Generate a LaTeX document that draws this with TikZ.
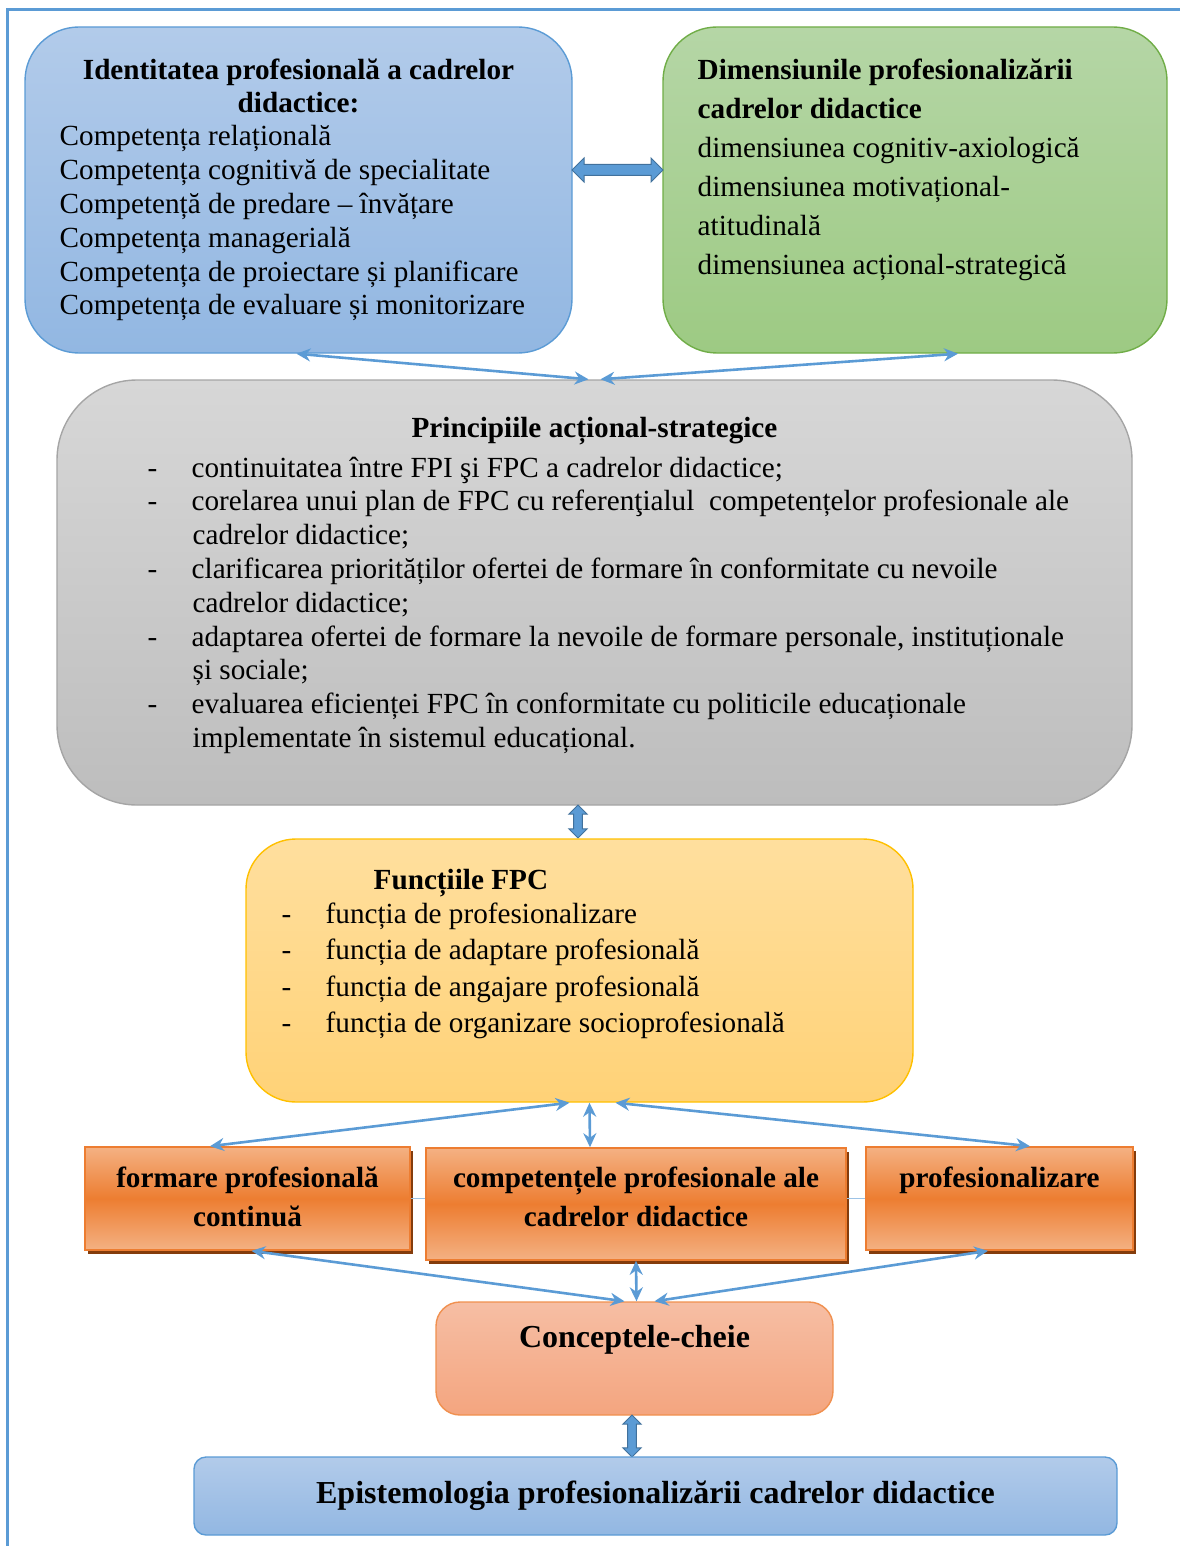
\documentclass[tikz,border=0pt]{standalone}
\usepackage{fontspec}
\setmainfont{Liberation Serif}
\usetikzlibrary{arrows.meta,shapes.arrows,shadows}
\definecolor{frameBlue}{HTML}{5B9BD5}
\definecolor{arrowDark}{HTML}{41719C}
\definecolor{blueTop}{HTML}{B2CBEA}
\definecolor{blueBot}{HTML}{92B7E2}
\definecolor{greenTop}{HTML}{B5D6A6}
\definecolor{greenBot}{HTML}{9DCA83}
\definecolor{greenLine}{HTML}{70AD47}
\definecolor{grayTop}{HTML}{D7D7D7}
\definecolor{grayBot}{HTML}{BDBDBD}
\definecolor{grayLine}{HTML}{A5A5A5}
\definecolor{yelTop}{HTML}{FFDF9E}
\definecolor{yelBot}{HTML}{FFD277}
\definecolor{yelLine}{HTML}{FFC000}
\definecolor{orgLight}{HTML}{F4B183}
\definecolor{orgMid}{HTML}{ED7D31}
\definecolor{shadowBrown}{HTML}{843C0C}
\definecolor{salTop}{HTML}{F6BEA4}
\definecolor{salBot}{HTML}{F4A57F}
\definecolor{salLine}{HTML}{F0904F}
\definecolor{thinBlue}{HTML}{9DC3E6}

\begin{document}
\begin{tikzpicture}[>={Stealth[length=7pt,width=6.5pt]},x=0.5pt,y=-0.5pt,
    every node/.style={inner sep=0pt},
    bluebox/.style={draw=frameBlue,line width=0.7pt,top color=blueTop,bottom color=blueBot},
    greenbox/.style={draw=greenLine,line width=0.7pt,top color=greenTop,bottom color=greenBot,rounded corners=27pt},
    graybox/.style={draw=grayLine,line width=0.7pt,top color=grayTop,bottom color=grayBot,rounded corners=40pt},
    yellowbox/.style={draw=yelLine,line width=0.7pt,top color=yelTop,bottom color=yelBot,rounded corners=25pt},
    orangebox/.style={draw=orgMid,line width=0.8pt,top color=orgLight,bottom color=orgLight,middle color=orgMid,
        drop shadow={shadow xshift=1.5pt,shadow yshift=-2pt,opacity=1,fill=shadowBrown}},
    salmonbox/.style={draw=salLine,line width=0.7pt,top color=salTop,bottom color=salBot,rounded corners=12pt},
    txt/.style={align=left,font=\fontsize{14.6}{16.9}\selectfont},
    btxt/.style={align=center,font=\fontsize{14.6}{19.5}\selectfont\bfseries},
    link/.style={<->,draw=frameBlue,line width=1.3pt},
    fatarrow/.style={double arrow,double arrow head extend=3.25pt,inner sep=2.5pt,minimum width=1pt,
        fill=frameBlue,draw=arrowDark,line width=0.5pt}]
    \def\dashit#1{\makebox[22pt][l]{-}#1}
    \def\indt{\hspace*{22.5pt}}
    \useasboundingbox (0,0) rectangle (1180,1546);
    \draw[draw=frameBlue,line width=1.5pt] (7,1546) -- (7,10) -- (1180,10);
    % cutiile de sus
    \node[bluebox,rounded corners=27pt,minimum width=273.5pt,minimum height=163pt] (ident) at (298.5,190) {};
    \node[txt,font=\fontsize{14.6}{16.5}\selectfont\bfseries,align=center,anchor=north] (identT) at ([yshift=-16pt]ident.north)
        {Identitatea profesională a cadrelor\\didactice:};
    \node[txt,anchor=north west] (identL) at ([xshift=17.5pt,yshift=-49.5pt]ident.north west)
        {Competența relațională\\
         Competența cognitivă de specialitate\\
         Competență de predare – învățare\\
         Competența managerială\\
         Competența de proiectare și planificare\\
         Competența de evaluare și monitorizare};
    \node[greenbox,minimum width=252pt,minimum height=163pt] (dim) at (915,190) {};
    \node[txt,font=\fontsize{14.6}{19.5}\selectfont,anchor=north west] (dimL) at ([xshift=17.5pt,yshift=-16pt]dim.north west)
        {\textbf{Dimensiunile profesionalizării}\\
         \textbf{cadrelor didactice}\\
         dimensiunea cognitiv-axiologică\\
         dimensiunea motivațional-\\
         atitudinală\\
         dimensiunea acțional-strategică};
    \node[fatarrow,minimum height=45.5pt] (arrID) at (617.5,170) {};
    % principiile
    \node[graybox,minimum width=537.5pt,minimum height=212.5pt] (princ) at (594.5,592.5) {};
    \node[txt,font=\fontsize{14.6}{16.9}\selectfont\bfseries,anchor=north] (princT) at ([yshift=-19pt]princ.north)
        {Principiile acțional-strategice};
    \node[txt,anchor=north west] (princL) at ([xshift=45.5pt,yshift=-38.5pt]princ.north west)
        {\dashit{continuitatea între FPI şi FPC a cadrelor didactice;}\\
         \dashit{corelarea unui plan de FPC cu referenţialul\ \ competențelor profesionale ale}\\
         \indt cadrelor didactice;\\
         \dashit{clarificarea priorităților ofertei de formare în conformitate cu nevoile}\\
         \indt cadrelor didactice;\\
         \dashit{adaptarea ofertei de formare la nevoile de formare personale, instituționale}\\
         \indt și sociale;\\
         \dashit{evaluarea eficienței FPC în conformitate cu politicile educaționale}\\
         \indt implementate în sistemul educațional.};
    \draw[link] ([xshift=-1pt]ident.south) -- ([xshift=-3pt]princ.north);
    \draw[link] ([xshift=21.5pt]dim.south) -- ([xshift=3pt]princ.north);
    \node[fatarrow,rotate=90,minimum height=16.5pt,inner sep=1.9pt,double arrow head extend=2.4pt] (arrPF) at (578,821.5) {};
    % functiile FPC
    \node[yellowbox,minimum width=333.5pt,minimum height=131.5pt] (fpc) at (579.5,970.5) {};
    \node[txt,font=\fontsize{14.6}{18.25}\selectfont\bfseries,anchor=north west] (fpcT) at ([xshift=64pt,yshift=-15.5pt]fpc.north west)
        {Funcțiile FPC};
    \node[txt,font=\fontsize{14.6}{18.25}\selectfont,anchor=north west] (fpcL) at ([xshift=18pt,yshift=-32pt]fpc.north west)
        {\dashit{funcția de profesionalizare}\\
         \dashit{funcția de adaptare profesională}\\
         \dashit{funcția de angajare profesională}\\
         \dashit{funcția de organizare socioprofesională}};
    % cele trei concepte
    \node[orangebox,minimum width=162.5pt,minimum height=51.5pt] (cont) at (247.5,1198.5) {};
    \node[orangebox,minimum width=210pt,minimum height=56pt] (comp) at (636,1204) {};
    \node[orangebox,minimum width=133.5pt,minimum height=51.5pt] (prof) at (999.5,1198.5) {};
    \node[btxt,anchor=north] (contT) at ([yshift=-10pt]cont.north) {formare profesională\\continuă};
    \node[btxt,anchor=north] (compT) at ([yshift=-9.5pt]comp.north) {competențele profesionale ale\\cadrelor didactice};
    \node[btxt,anchor=north] (profT) at ([yshift=-10pt]prof.north) {profesionalizare};
    \draw[draw=thinBlue,line width=0.6pt] (cont.east) -- (cont.east -| comp.west);
    \draw[draw=thinBlue,line width=0.6pt] (prof.west -| comp.east) -- (prof.west);
    \draw[link] ([xshift=-5pt]fpc.south) -- ([xshift=-18.75pt]cont.north);
    \draw[link] ([xshift=5pt]fpc.south) -- ([xshift=-23pt]comp.north);
    \draw[link] ([xshift=18pt]fpc.south) -- ([xshift=15.25pt]prof.north);
    % conceptele-cheie si epistemologia
    \node[salmonbox,minimum width=198.5pt,minimum height=56.5pt] (concept) at (634.5,1358.5) {};
    \node[btxt,font=\fontsize{16}{19.5}\selectfont\bfseries,anchor=north] (conceptT) at ([yshift=-12pt]concept.north) {Conceptele-cheie};
    \draw[link] ([xshift=2pt]cont.south) -- ([xshift=-5pt]concept.north);
    \draw[link] (comp.south) -- ([xshift=1pt]concept.north);
    \draw[link] ([xshift=-5.75pt]prof.south) -- ([xshift=10pt]concept.north);
    \node[fatarrow,rotate=90,minimum height=21pt,inner sep=1.9pt,double arrow head extend=2.4pt] (arrCE) at (632,1436) {};
    \node[bluebox,rounded corners=6pt,minimum width=461.5pt,minimum height=39pt,font=\fontsize{16}{19}\selectfont\bfseries] (epist) at (655.5,1496)
        {\raisebox{1pt}{Epistemologia profesionalizării cadrelor didactice}};
\end{tikzpicture}
\end{document}
